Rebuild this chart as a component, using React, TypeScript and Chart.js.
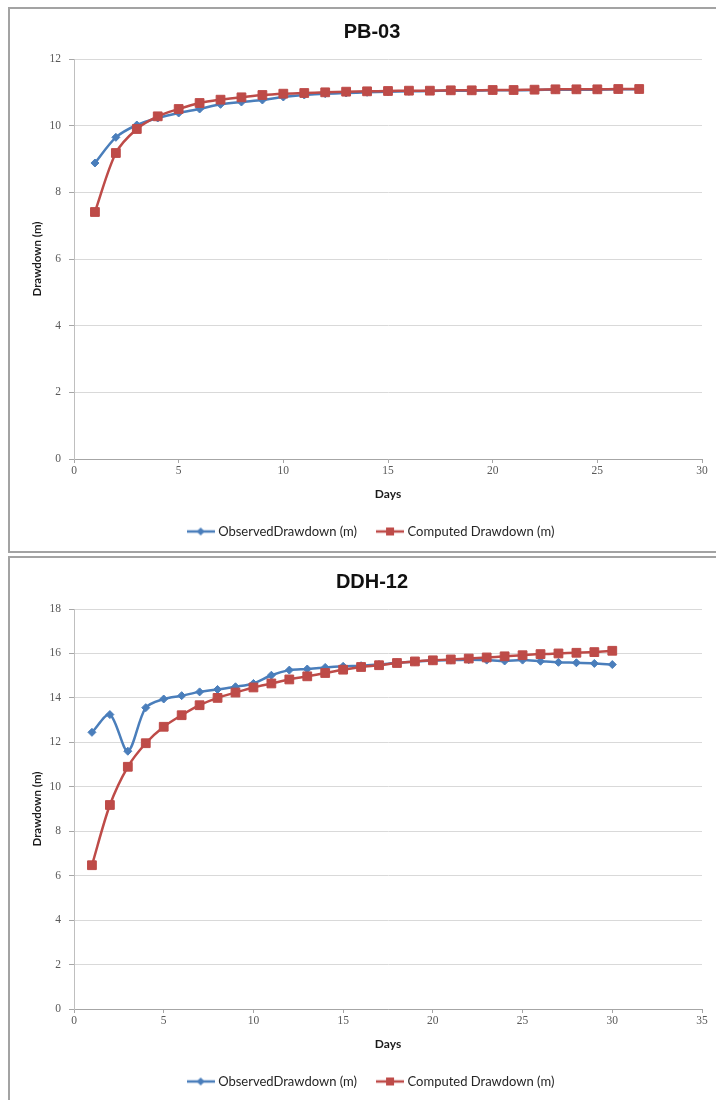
import React, { useEffect, useRef } from "react";
import { Chart, registerables } from "chart.js";

Chart.register(...registerables);

// ---- Data ----
const pbDays = [1, 2, 3, 4, 5, 6, 7, 8, 9, 10, 11, 12, 13, 14, 15, 16, 17, 18, 19, 20, 21, 22, 23, 24, 25, 26, 27];
const pbObserved = [8.88, 9.65, 10.02, 10.23, 10.38, 10.5, 10.64, 10.71, 10.77, 10.86, 10.92, 10.96, 10.98, 11.0, 11.02, 11.03, 11.04, 11.05, 11.05, 11.06, 11.06, 11.07, 11.08, 11.08, 11.08, 11.09, 11.09];
const pbComputed = [7.41, 9.18, 9.9, 10.28, 10.5, 10.68, 10.78, 10.85, 10.92, 10.96, 10.98, 11.0, 11.02, 11.03, 11.04, 11.05, 11.05, 11.06, 11.06, 11.07, 11.07, 11.08, 11.09, 11.09, 11.09, 11.1, 11.1];

const ddhDays = [1, 2, 3, 4, 5, 6, 7, 8, 9, 10, 11, 12, 13, 14, 15, 16, 17, 18, 19, 20, 21, 22, 23, 24, 25, 26, 27, 28, 29, 30];
const ddhObserved = [12.45, 13.25, 11.6, 13.56, 13.95, 14.1, 14.27, 14.38, 14.5, 14.65, 15.02, 15.25, 15.3, 15.37, 15.42, 15.45, 15.5, 15.58, 15.63, 15.68, 15.7, 15.72, 15.7, 15.66, 15.7, 15.65, 15.6, 15.58, 15.55, 15.5];
const ddhComputed = [6.47, 9.18, 10.9, 11.96, 12.7, 13.22, 13.67, 14.0, 14.24, 14.47, 14.65, 14.83, 14.97, 15.12, 15.27, 15.39, 15.47, 15.57, 15.64, 15.69, 15.73, 15.77, 15.82, 15.87, 15.92, 15.97, 16.0, 16.03, 16.06, 16.12];

const seriesLabels = ["ObservedDrawdown (m)", "Computed Drawdown (m)"];
const xAxisTitle = "Days";
const yAxisTitle = "Drawdown (m)";

const BLUE = "#4a7ebb";
const RED = "#be4b48";

function makeLegendMarker(color: string, shape: "diamond" | "square"): HTMLCanvasElement {
  const c = document.createElement("canvas");
  c.width = 28;
  c.height = 12;
  const g = c.getContext("2d")!;
  g.strokeStyle = color;
  g.lineWidth = 2.5;
  g.beginPath();
  g.moveTo(0, 6);
  g.lineTo(28, 6);
  g.stroke();
  g.fillStyle = color;
  g.beginPath();
  if (shape === "diamond") {
    g.moveTo(14, 2);
    g.lineTo(18, 6);
    g.lineTo(14, 10);
    g.lineTo(10, 6);
    g.closePath();
  } else {
    g.rect(10, 2, 8, 8);
  }
  g.fill();
  return c;
}

type Props = {
  title: string;
  days: number[];
  observed: number[];
  computed: number[];
  xMax: number;
  yMax: number;
  top: number;
};

function DrawdownChart({ title, days, observed, computed, xMax, yMax, top }: Props) {
  const ref = useRef<HTMLCanvasElement>(null);
  useEffect(() => {
    const canvas = ref.current!;
    const markers = [makeLegendMarker(BLUE, "diamond"), makeLegendMarker(RED, "square")];
    const chart = new Chart(canvas, {
      type: "line",
      data: {
        datasets: [
          {
            label: seriesLabels[0],
            data: days.map((d, i) => ({ x: d, y: observed[i] })),
            borderColor: BLUE,
            backgroundColor: BLUE,
            pointBackgroundColor: BLUE,
            pointBorderColor: BLUE,
            pointStyle: "rectRot",
            pointRadius: 4,
            pointBorderWidth: 1,
            borderWidth: 2.5,
            tension: 0.3,
            order: 2,
          },
          {
            label: seriesLabels[1],
            data: days.map((d, i) => ({ x: d, y: computed[i] })),
            borderColor: RED,
            backgroundColor: RED,
            pointBackgroundColor: RED,
            pointBorderColor: RED,
            pointStyle: "rect",
            pointRadius: 6.2,
            pointBorderWidth: 1,
            borderWidth: 2.5,
            tension: 0.3,
            order: 1,
          },
        ],
      },
      options: {
        animation: false,
        responsive: false,
        devicePixelRatio: 1,
        layout: { padding: { left: 42, right: 14, top: 0, bottom: 4 } },
        scales: {
          x: {
            type: "linear",
            min: 0,
            max: xMax,
            ticks: {
              stepSize: 5,
              padding: 1,
              color: "#595959",
              font: { family: "'Liberation Serif'", size: 11.5 },
            },
            grid: {
              drawOnChartArea: false,
              drawTicks: true,
              tickLength: 4,
              tickColor: "#a6a6a6",
              color: "#a6a6a6",
            },
            border: { display: true, color: "#a6a6a6", width: 1 },
            title: {
              display: true,
              text: xAxisTitle,
              color: "#1a1a1a",
              font: { family: "Lato", size: 12, weight: "bold" },
              padding: { top: 0, bottom: 2 },
            },
            afterFit: (s: any) => {
              s.height = 44;
            },
          },
          y: {
            type: "linear",
            min: 0,
            max: yMax,
            ticks: {
              stepSize: 2,
              padding: 8,
              color: "#595959",
              font: { family: "'Liberation Serif'", size: 11.5 },
            },
            grid: {
              color: "#d9d9d9",
              tickColor: "#a6a6a6",
              tickLength: 5,
              lineWidth: 1,
            },
            border: { display: true, color: "#bfbfbf", width: 1 },
            title: {
              display: true,
              text: yAxisTitle,
              color: "#1a1a1a",
              font: { family: "Lato", size: 11.5, weight: "bold" },
              padding: { top: -12, bottom: 0 },
            },
            afterFit: (s: any) => {
              s.width = 32;
            },
          },
        },
        plugins: {
          title: {
            display: true,
            text: title,
            color: "#111111",
            font: { family: "'Liberation Sans'", size: 20, weight: "bold" },
            padding: { top: 20, bottom: 15 },
          },
          legend: {
            display: true,
            position: "bottom",
            labels: {
              usePointStyle: true,
              pointStyleWidth: 22,
              padding: 22,
              color: "#262626",
              font: { family: "Lato", size: 13 },
              generateLabels: () =>
                seriesLabels.map((t, i) => ({
                  text: t,
                  pointStyle: markers[i] as any,
                  fillStyle: i === 0 ? BLUE : RED,
                  strokeStyle: i === 0 ? BLUE : RED,
                  lineWidth: 0,
                  hidden: false,
                  datasetIndex: i,
                  fontColor: "#262626",
                })),
            },
          },
          tooltip: { enabled: false },
        },
      } as any,
    });
    return () => chart.destroy();
  }, []);
  return (
    <canvas
      ref={ref}
      width={716}
      height={552}
      style={{ position: "absolute", left: 0, top, width: 716, height: 552 }}
    />
  );
}

export default function App() {
  const boxStyle = (top: number, height: number): React.CSSProperties => ({
    position: "absolute",
    left: 8,
    top,
    width: 740,
    height,
    boxSizing: "border-box",
    border: "2px solid #a3a3a3",
    background: "#ffffff",
  });
  return (
    <div
      style={{
        position: "fixed",
        left: 0,
        top: 0,
        width: 716,
        height: 1100,
        overflow: "hidden",
        background: "#ffffff",
      }}
    >
      <div style={boxStyle(7, 546)} />
      <div style={boxStyle(556, 600)} />
      <DrawdownChart title="PB-03" days={pbDays} observed={pbObserved} computed={pbComputed} xMax={30} yMax={12} top={0} />
      <DrawdownChart title="DDH-12" days={ddhDays} observed={ddhObserved} computed={ddhComputed} xMax={35} yMax={18} top={550} />
    </div>
  );
}
